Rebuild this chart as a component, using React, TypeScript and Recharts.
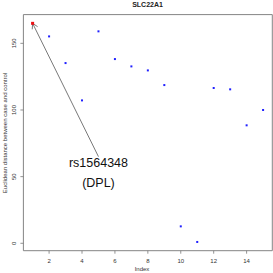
import React from "react";
import {
  ScatterChart,
  Scatter,
  XAxis,
  YAxis,
  ReferenceArea,
  ReferenceLine,
  ReferenceDot,
} from "recharts";

const indices = [1, 2, 3, 4, 5, 6, 7, 8, 9, 10, 11, 12, 13, 14, 15];
const distances = [165, 155.2, 135.2, 107.2, 159, 138.2, 132.7, 129.7, 118.7, 12.7, 1, 116.5, 115.5, 88.5, 100];
const xTicks = [2, 4, 6, 8, 10, 12, 14];
const yTicks = [0, 50, 100, 150];
const highlightIndex = 1;
const annotationLines = ["rs1564348", "(DPL)"];
const annotationAnchor = { x: 5, y: 65 };
const annotationTextY = [60, 45];
const title = "SLC22A1";

const data = indices.map((x, i) => ({ x, y: distances[i] }));
const highlight = data.find((d) => d.x === highlightIndex)!;

const xDomain: [number, number] = [0.44, 15.56];
const yDomain: [number, number] = [-5.56, 171.56];

const FONT = "'Liberation Sans', Arial, sans-serif";

const Dot = (props: any) => (
  <rect x={props.cx - 1} y={props.cy - 1} width={2} height={2} fill="#2020ff" />
);

const RedDot = (props: any) => {
  const { cx, cy } = props;
  if (typeof cx !== "number" || typeof cy !== "number") return null;
  return <rect x={cx - 1.5} y={cy - 1.5} width={3} height={3} fill="#ee1111" />;
};

const YTick = (props: any) => {
  const { x, y, payload } = props;
  return (
    <text
      x={x}
      y={y}
      transform={`rotate(-90 ${x} ${y})`}
      textAnchor="middle"
      fontSize={6}
      fontFamily={FONT}
      fill="#333"
      dy={-2.5}
    >
      {payload.value}
    </text>
  );
};

const XTick = (props: any) => {
  const { x, y, payload } = props;
  return (
    <text x={x} y={y + 7} textAnchor="middle" fontSize={6} fontFamily={FONT} fill="#333">
      {payload.value}
    </text>
  );
};

const ArrowShape = (props: any) => {
  const { x1, y1, x2, y2 } = props;
  if ([x1, y1, x2, y2].some((v) => typeof v !== "number" || isNaN(v))) return null;
  const ang = Math.atan2(y2 - y1, x2 - x1);
  const len = 6;
  const spread = Math.PI / 6;
  const a1 = ang + spread;
  const a2 = ang - spread;
  return (
    <g stroke="#555" strokeWidth={0.8} fill="none">
      <line x1={x1} y1={y1} x2={x2} y2={y2} />
      <line x1={x1} y1={y1} x2={x1 + len * Math.cos(a1)} y2={y1 + len * Math.sin(a1)} />
      <line x1={x1} y1={y1} x2={x1 + len * Math.cos(a2)} y2={y1 + len * Math.sin(a2)} />
    </g>
  );
};

const AnnotationLabel = (text: string) => (props: any) => {
  const { cx, cy } = props;
  if (typeof cx !== "number" || typeof cy !== "number") return null;
  return (
    <text
      x={cx}
      y={cy}
      textAnchor="middle"
      dominantBaseline="central"
      fontSize={12.5}
      fontFamily={FONT}
      fill="#111"
    >
      {text}
    </text>
  );
};

export default function App() {
  return (
    <div style={{ position: "absolute", left: 0, top: 0, width: 273, height: 273, background: "#fff" }}>
      <div
        style={{
          position: "absolute",
          left: 23,
          width: 249,
          top: 1,
          textAlign: "center",
          fontFamily: FONT,
          fontWeight: "bold",
          fontSize: 7,
          color: "#222",
        }}
      >
        {title}
      </div>
      <div
        style={{
          position: "absolute",
          left: 142,
          top: 266,
          transform: "translateX(-50%)",
          fontFamily: FONT,
          fontSize: 6,
          color: "#333",
          whiteSpace: "nowrap",
        }}
      >
        Index
      </div>
      <div
        style={{
          position: "absolute",
          left: 5,
          top: 133,
          transform: "translate(-50%, -50%) rotate(-90deg)",
          fontFamily: FONT,
          fontSize: 6,
          color: "#333",
          whiteSpace: "nowrap",
        }}
      >
        Euclidean distance between case and control
      </div>
      <ScatterChart
        width={273}
        height={273}
        margin={{ top: 14.6, right: 0.7, bottom: 0, left: 0 }}
        style={{ position: "absolute", left: 0, top: 0 }}
      >
        <XAxis
          type="number"
          dataKey="x"
          domain={xDomain}
          ticks={xTicks}
          allowDataOverflow
          height={22.3}
          axisLine={false}
          tickLine={{ stroke: "#777", strokeWidth: 0.8 }}
          tickSize={3}
          tick={<XTick />}
          interval={0}
        />
        <YAxis
          type="number"
          dataKey="y"
          domain={yDomain}
          ticks={yTicks}
          allowDataOverflow
          width={23.4}
          axisLine={false}
          tickLine={{ stroke: "#777", strokeWidth: 0.8 }}
          tickSize={3}
          tick={<YTick />}
          interval={0}
        />
        <ReferenceArea
          x1={xDomain[0]}
          x2={xDomain[1]}
          y1={yDomain[0]}
          y2={yDomain[1]}
          fill="none"
          stroke="#777"
          strokeWidth={0.9}
        />
        <Scatter data={data} shape={<Dot />} isAnimationActive={false} />
        <ReferenceDot x={highlight.x} y={highlight.y} shape={RedDot} />
        <ReferenceLine
          segment={[
            { x: highlight.x, y: highlight.y },
            { x: annotationAnchor.x, y: annotationAnchor.y },
          ]}
          shape={<ArrowShape />}
        />
        {annotationLines.map((t, i) => (
          <ReferenceDot
            key={t}
            x={annotationAnchor.x}
            y={annotationTextY[i]}
            shape={AnnotationLabel(t)}
          />
        ))}
      </ScatterChart>
    </div>
  );
}
